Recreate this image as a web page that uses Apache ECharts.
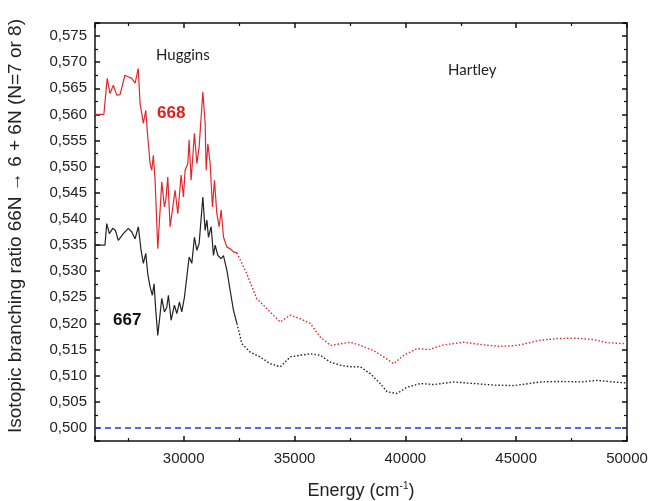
<!DOCTYPE html>
<html>
<head>
<meta charset="utf-8">
<script src="https://cdn.jsdelivr.net/npm/echarts@6/dist/echarts.min.js"></script>
<style>html,body{margin:0;padding:0;background:#fff;}#chart{width:649px;height:501px;}</style>
</head>
<body>
<div id="chart"></div>
<script>
// ---- data ----
const xMin = 26000, xMax = 50000;
const yMin = 0.4975, yMax = 0.5775;
const baselineValue = 0.500;

const energy668Solid = [26000,26400,26550,26680,26830,26980,27130,27350,27500,27660,27810,27950,28033,28182,28290,28380,28484,28561,28633,28710,28832,29013,29130,29194,29284,29388,29492,29614,29735,29885,29989,30065,30187,30246,30336,30485,30594,30698,30865,30969,31014,31091,31195,31299,31389,31497,31601,31692,31795,31949,32098,32247,32400];
const ratio668Solid  = [0.5600,0.5600,0.5669,0.5640,0.5656,0.5637,0.5638,0.5675,0.5672,0.5669,0.5660,0.5688,0.5621,0.5583,0.5608,0.5557,0.5506,0.5493,0.5522,0.5474,0.5343,0.5471,0.5423,0.5436,0.5480,0.5385,0.5417,0.5455,0.5410,0.5484,0.5442,0.5493,0.5506,0.5551,0.5474,0.5564,0.5506,0.5538,0.5643,0.5583,0.5493,0.5544,0.5506,0.5423,0.5474,0.5410,0.5385,0.5417,0.5366,0.5346,0.5343,0.5337,0.5335];

const energy668Dotted = [32400,32850,33300,33600,34130,34360,34810,35260,35710,36160,36620,37070,37520,37970,38570,39020,39470,39930,40530,41060,41730,42640,43540,44290,45050,46100,46860,47610,48510,49110,50000];
const ratio668Dotted  = [0.5335,0.5295,0.5247,0.5235,0.5212,0.5203,0.5216,0.5209,0.5200,0.5174,0.5158,0.5161,0.5164,0.5158,0.5148,0.5136,0.5123,0.5139,0.5152,0.5150,0.5159,0.5164,0.5159,0.5156,0.5158,0.5168,0.5171,0.5172,0.5169,0.5163,0.5161];

const energy667Solid = [26000,26450,26530,26650,26800,26920,27050,27280,27500,27660,27807,27956,28078,28182,28290,28380,28484,28588,28665,28741,28832,29013,29130,29239,29311,29433,29582,29690,29808,29916,30034,30142,30246,30368,30485,30594,30698,30865,30969,31046,31118,31240,31344,31420,31542,31692,31795,31949,32098,32247,32400];
const ratio667Solid  = [0.5350,0.5350,0.5391,0.5372,0.5382,0.5378,0.5359,0.5372,0.5382,0.5375,0.5362,0.5385,0.5340,0.5315,0.5334,0.5295,0.5270,0.5254,0.5276,0.5225,0.5177,0.5248,0.5222,0.5231,0.5254,0.5206,0.5235,0.5219,0.5241,0.5222,0.5250,0.5289,0.5327,0.5315,0.5365,0.5340,0.5353,0.5442,0.5378,0.5398,0.5365,0.5385,0.5330,0.5350,0.5330,0.5324,0.5330,0.5302,0.5263,0.5225,0.5200];

const energy667Dotted = [32400,32630,33000,33450,33900,34360,34810,35260,35710,36160,36620,37070,37520,37970,38420,38870,39180,39630,40080,40680,41280,42190,43090,43990,44900,46100,47000,47910,48660,49410,50000];
const ratio667Dotted  = [0.5200,0.5161,0.5145,0.5136,0.5123,0.5117,0.5136,0.5139,0.5142,0.5139,0.5126,0.5120,0.5117,0.5117,0.5104,0.5085,0.5069,0.5066,0.5078,0.5085,0.5083,0.5088,0.5085,0.5082,0.5081,0.5088,0.5089,0.5088,0.5091,0.5088,0.5086];

const baselineEnergy = [xMin, xMax];
const baselineRatio = [baselineValue, baselineValue];

const zip = (xs, ys) => xs.map((x, i) => [x, ys[i]]);

const RED = '#e3262b';
const FONT = 'Liberation Sans';

const axisLine = {show: true, lineStyle: {color: '#111', width: 1.5}};
const tick = {show: true, inside: true, length: 5, lineStyle: {color: '#111', width: 1.5}};
const minorTick = {show: true, splitNumber: 2, length: 3, lineStyle: {color: '#111', width: 1.2}};

const xFmt = v => (Math.abs(v % 5000) < 1e-6 && v >= 30000) ? String(v) : '';
const yFmt = v => {
  const k = Math.round(v * 1000);
  if (Math.abs(v * 1000 - k) > 1e-6 || k % 5 !== 0 || v < 0.4999) return '';
  return v.toFixed(3).replace('.', ',');
};

const chart = echarts.init(document.getElementById('chart'), null, {renderer: 'canvas'});
chart.setOption({
  animation: false,
  backgroundColor: '#fff',
  grid: {left: 95, right: 22, top: 23, bottom: 60, containLabel: false, outerBoundsMode: 'none'},
  xAxis: [{
    type: 'value', min: xMin, max: xMax, splitNumber: 5,
    axisLine: axisLine, axisTick: tick, minorTick: minorTick, splitLine: {show: false},
    axisLabel: {show: true, formatter: xFmt, showMinLabel: false, margin: 10, color: '#222', fontSize: 15, fontFamily: FONT},
    name: '{a|Energy (cm}{s|-1}{a|)}', nameLocation: 'middle', nameGap: 40,
    nameTextStyle: {rich: {a: {fontSize: 18, fontFamily: FONT, color: '#222'}, s: {fontSize: 10, fontFamily: FONT, color: '#222', padding: [0, 0, 10, 0]}}}
  }, {
    type: 'value', min: xMin, max: xMax, splitNumber: 5, position: 'top',
    axisLine: axisLine, axisTick: tick, minorTick: minorTick, splitLine: {show: false},
    axisLabel: {show: false}
  }],
  yAxis: [{
    type: 'value', min: yMin, max: yMax, splitNumber: 16,
    axisLine: axisLine, axisTick: tick, minorTick: minorTick, splitLine: {show: false},
    axisLabel: {show: true, formatter: yFmt, showMinLabel: false, showMaxLabel: false, margin: 8, color: '#222', fontSize: 15, fontFamily: FONT},
    name: 'Isotopic branching ratio 66N \u2192 6 + 6N (N=7 or 8)', nameLocation: 'middle', nameRotate: 90, nameGap: 70,
    nameTextStyle: {fontSize: 19, fontFamily: FONT, color: '#222', padding: [0, 0, 0, 12]}
  }, {
    type: 'value', min: yMin, max: yMax, splitNumber: 16, position: 'right',
    axisLine: axisLine, axisTick: tick, minorTick: minorTick, splitLine: {show: false},
    axisLabel: {show: false}
  }],
  series: [
    {type: 'line', name: '668 solid', data: zip(energy668Solid, ratio668Solid), showSymbol: false, symbol: 'none',
     lineStyle: {color: RED, width: 1.2}, z: 3},
    {type: 'line', name: '668 dotted', data: zip(energy668Dotted, ratio668Dotted), showSymbol: false, symbol: 'none',
     lineStyle: {color: RED, width: 1.4, type: [1.5, 2]}, z: 3},
    {type: 'line', name: '667 solid', data: zip(energy667Solid, ratio667Solid), showSymbol: false, symbol: 'none',
     lineStyle: {color: '#222', width: 1.2}, z: 3},
    {type: 'line', name: '667 dotted', data: zip(energy667Dotted, ratio667Dotted), showSymbol: false, symbol: 'none',
     lineStyle: {color: '#222', width: 1.4, type: [1.5, 2]}, z: 3},
    {type: 'line', name: 'baseline', data: zip(baselineEnergy, baselineRatio), showSymbol: false, symbol: 'none',
     lineStyle: {color: '#2233dd', width: 1.5, type: [6, 4]}, z: 2}
  ],
  graphic: [
    {type: 'text', left: 156, top: 48, style: {text: 'Huggins', fontSize: 15, fontFamily: 'Lato', fill: '#222'}},
    {type: 'text', left: 448, top: 63, style: {text: 'Hartley', fontSize: 15, fontFamily: 'Lato', fill: '#222'}},
    {type: 'text', left: 157, top: 105, style: {text: '668', fontSize: 17, fontWeight: 'bold', fontFamily: FONT, fill: '#e0201f'}},
    {type: 'text', left: 113, top: 312, style: {text: '667', fontSize: 17, fontWeight: 'bold', fontFamily: FONT, fill: '#111'}}
  ]
});
</script>
</body>
</html>
